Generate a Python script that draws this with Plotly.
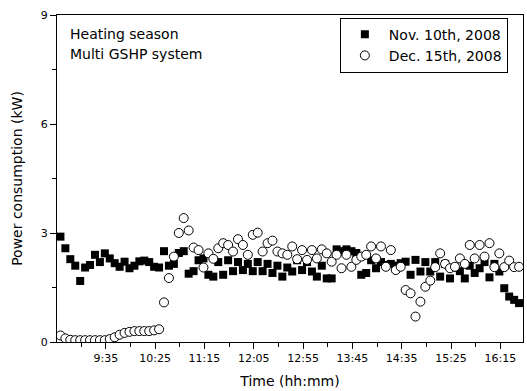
import plotly.graph_objects as go

# Sampling: 5-minute records starting at 8:49 (minutes after midnight)
start_min = 529
step_min = 5

nov10_kw = [2.90, 2.58, 2.28, 2.10, 1.68, 2.05, 2.12, 2.40, 2.20, 2.44,
            2.30, 2.17, 2.07, 2.21, 2.03, 2.10, 2.22, 2.24, 2.20, 2.07,
            2.05, 2.50, 2.10, 2.15, 2.45, 2.50, 1.88, 1.95, 2.25, 2.30,
            1.85, 1.80, 2.20, 1.85, 2.25, 1.95, 2.20, 1.98, 2.15, 1.95,
            2.20, 1.95, 2.15, 1.90, 2.10, 1.80, 2.05, 1.94, 2.25, 1.98,
            2.20, 1.94, 1.80, 2.10, 1.75, 1.75, 2.55, 2.50, 2.55, 2.50,
            2.45, 1.85, 1.90, 2.25, 2.03, 2.20, 2.12, 2.15, 2.10, 2.17,
            2.21, 1.85, 2.26, 1.94, 2.20, 1.94, 2.20, 1.80, 2.15, 1.75,
            2.05, 1.95, 1.75, 2.10, 1.90, 2.03, 2.20, 1.78, 2.15, 1.94,
            1.48, 1.25, 1.16, 1.07]

dec15_kw = [0.18, 0.10, 0.06, 0.05, 0.05, 0.05, 0.05, 0.05, 0.05, 0.05,
            0.08, 0.13, 0.20, 0.25, 0.28, 0.30, 0.30, 0.30, 0.30, 0.32,
            0.35, 1.09, 1.76, 2.35, 3.00, 3.41, 3.07, 2.60, 2.53, 2.05,
            2.44, 2.29, 2.58, 2.72, 2.67, 2.49, 2.83, 2.67, 2.40, 2.95,
            3.01, 2.49, 2.72, 2.79, 2.49, 2.44, 2.40, 2.63, 2.28, 2.53,
            2.26, 2.53, 2.30, 2.55, 2.44, 2.21, 2.40, 2.03, 2.40, 2.07,
            2.26, 2.35, 2.40, 2.63, 2.30, 2.63, 2.07, 2.53, 1.98, 2.07,
            1.43, 1.34, 0.70, 1.11, 1.52, 1.69, 2.06, 2.44, 2.15, 2.03,
            2.07, 2.30, 2.15, 2.67, 2.30, 2.67, 2.35, 2.72, 2.06, 2.44,
            2.06, 2.24, 2.06, 2.07]

tick_labels = ["9:35", "10:25", "11:15", "12:05", "12:55", "13:45", "14:35", "15:25", "16:15"]
note_lines = ["Heating season", "Multi GSHP system"]


def to_min(s):
    h, m = s.split(":")
    return int(h) * 60 + int(m)


tick_vals = [to_min(s) for s in tick_labels]
t_nov = [start_min + step_min * i for i in range(len(nov10_kw))]
t_dec = [start_min + step_min * i for i in range(len(dec15_kw))]

FONT = "DejaVu Sans, Verdana, sans-serif"

fig = go.Figure()
fig.add_trace(go.Scatter(
    x=t_nov, y=nov10_kw, mode="markers", name="Nov. 10th, 2008",
    marker=dict(symbol="square", size=8, color="black",
                line=dict(color="black", width=0)),
))
fig.add_trace(go.Scatter(
    x=t_dec, y=dec15_kw, mode="markers", name="Dec. 15th, 2008",
    marker=dict(symbol="circle", size=9, color="white",
                line=dict(color="black", width=1)),
))

fig.update_layout(
    width=527, height=391,
    margin=dict(l=57, r=4, t=15, b=49),
    paper_bgcolor="white", plot_bgcolor="white",
    font=dict(family=FONT, size=12, color="black"),
    showlegend=True,
    legend=dict(
        x=0.607, y=0.992, xanchor="left", yanchor="top",
        bordercolor="black", borderwidth=1, bgcolor="white",
        font=dict(size=14, family=FONT),
        tracegroupgap=0, itemwidth=38,
    ),
    xaxis=dict(
        range=[525.5, 998], tickvals=tick_vals, ticktext=tick_labels,
        ticks="outside", ticklen=6, tickwidth=1, tickcolor="black",
        showline=True, linecolor="black", linewidth=1, mirror=True,
        showgrid=False, zeroline=False,
        tickfont=dict(size=11),
        minor=dict(tickvals=[v - 25 for v in tick_vals] + [tick_vals[-1] + 25],
                   ticks="outside", ticklen=4, tickcolor="black", showgrid=False),
        title=dict(text="Time (hh:mm)", font=dict(size=14), standoff=11),
    ),
    yaxis=dict(
        range=[0, 9], tickvals=[0, 3, 6, 9],
        ticks="outside", ticklen=6, tickwidth=1, tickcolor="black",
        showline=True, linecolor="black", linewidth=1, mirror=True,
        showgrid=False, zeroline=False,
        tickfont=dict(size=11),
        minor=dict(tickvals=[1.5, 4.5, 7.5], ticks="outside", ticklen=4,
                   tickcolor="black", showgrid=False),
        title=dict(text="Power consumption (kW)", font=dict(size=14), standoff=14),
    ),
    annotations=[
        dict(text=note_lines[0], xref="paper", yref="paper",
             x=0.024, y=0.972, xanchor="left", yanchor="top", showarrow=False,
             align="left", font=dict(size=14, family=FONT)),
        dict(text=note_lines[1], xref="paper", yref="paper",
             x=0.024, y=0.911, xanchor="left", yanchor="top", showarrow=False,
             align="left", font=dict(size=14, family=FONT)),
    ],
)

fig.write_html("out.html")
